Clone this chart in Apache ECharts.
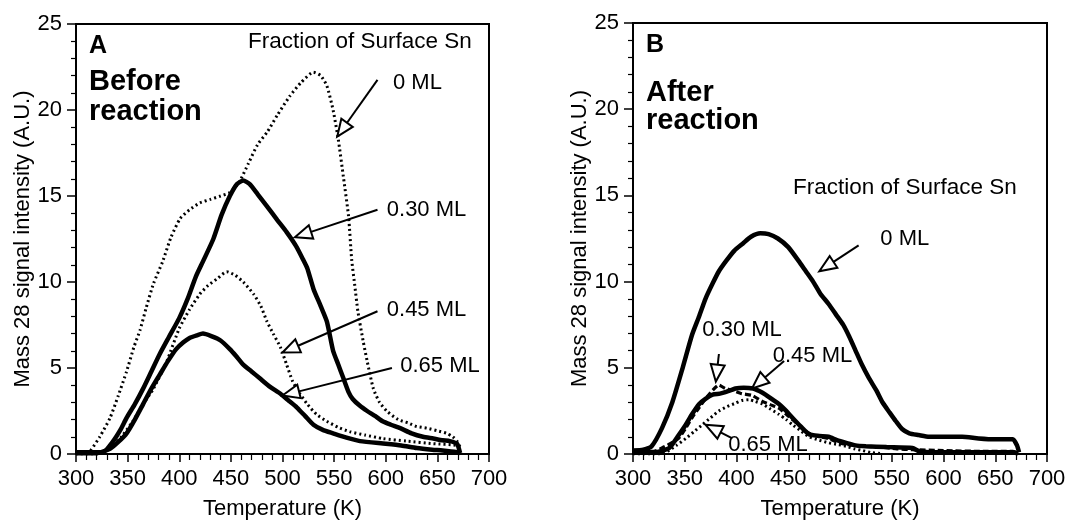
<!DOCTYPE html>
<html>
<head>
<meta charset="utf-8">
<title>Mass 28 TPD</title>
<script src="https://cdn.jsdelivr.net/npm/echarts@6/dist/echarts.min.js"></script>
<style>
    html, body { margin: 0; padding: 0; background: #fff; }
    #chart { width: 1092px; height: 525px; }
</style>
</head>
<body>
<div id="chart"></div>
<script>
// Panel A - before reaction, [temperature K, intensity]
var beforeMl0 = [[300,0.05],[310,0.1],[314,0.2],[323,1.0],[333,2.1],[341,3.4],[349,4.8],[356,6.2],[362,7.2],[368,8.5],[375,9.9],[384,11.2],[392,12.6],[401,13.7],[410,14.2],[420,14.6],[430,14.8],[440,15.0],[449,15.2],[458,15.8],[467,16.9],[476,18.0],[485,18.7],[495,19.7],[507,20.8],[518,21.6],[530,22.2],[537,22.0],[543,21.4],[549,20.0],[554,18.3],[559,16.1],[564,13.8],[567,11.3],[570,9.8],[573,8.3],[578,6.6],[582,5.4],[588,3.8],[594,3.0],[601,2.5],[612,2.0],[622,1.8],[630,1.6],[640,1.5],[650,1.35],[659,1.2],[665,1.0],[669,0.75],[672,0.4]];
var beforeMl30 = [[300,0.1],[310,0.1],[320,0.1],[326,0.1],[336,0.75],[343,1.4],[349,2.1],[357,2.9],[365,3.8],[373,4.8],[381,5.8],[390,6.8],[400,7.9],[408,9.0],[416,10.3],[423,11.2],[433,12.5],[441,13.9],[449,15.0],[456,15.7],[462,15.9],[468,15.7],[476,15.1],[485,14.4],[495,13.6],[504,12.9],[513,12.1],[520,11.3],[524,10.8],[530,9.6],[537,8.6],[543,7.7],[549,6.0],[554,5.2],[559,4.4],[564,3.6],[568,3.2],[575,2.8],[582,2.5],[590,2.2],[597,1.9],[605,1.7],[614,1.5],[625,1.2],[636,1.0],[646,0.9],[655,0.8],[662,0.75],[669,0.6],[672,0.05]];
var beforeMl45 = [[300,0],[320,0],[333,0.35],[344,1.0],[355,1.9],[365,2.9],[375,3.8],[388,5.4],[400,7.3],[410,8.4],[420,9.3],[428,9.8],[437,10.2],[446,10.6],[454,10.4],[462,10.0],[472,9.3],[479,8.6],[485,7.7],[491,7.0],[498,6.2],[504,5.2],[510,4.2],[517,3.5],[524,2.9],[533,2.3],[543,1.9],[554,1.55],[565,1.3],[580,1.1],[597,0.9],[620,0.75],[646,0.6],[669,0.5],[672,0.3]];
var beforeMl65 = [[300,0.05],[320,0.05],[333,0.3],[341,0.7],[349,1.2],[357,2.0],[365,2.9],[373,3.8],[381,4.6],[389,5.4],[397,6.1],[404,6.5],[410,6.75],[417,6.9],[423,7.0],[431,6.85],[440,6.6],[449,6.1],[455,5.7],[462,5.2],[470,4.8],[478,4.4],[488,3.9],[498,3.5],[506,3.1],[514,2.7],[522,2.2],[530,1.7],[539,1.4],[549,1.2],[562,0.95],[575,0.75],[600,0.6],[615,0.5],[630,0.35],[645,0.25],[655,0.2],[669,0.1],[672,0.05]];

// Panel B - after reaction
var afterMl0 = [[300,0.2],[310,0.25],[318,0.45],[328,1.5],[338,3.0],[348,5.0],[357,6.9],[364,8.0],[370,9.0],[377,9.9],[383,10.6],[390,11.2],[398,11.8],[406,12.2],[414,12.6],[423,12.8],[431,12.75],[440,12.5],[450,12.0],[460,11.2],[467,10.6],[474,10.0],[481,9.3],[489,8.7],[496,8.1],[503,7.5],[509,6.8],[515,6.0],[521,5.2],[528,4.4],[535,3.7],[541,3.0],[548,2.4],[554,1.9],[560,1.45],[567,1.2],[576,1.1],[586,1.0],[600,1.0],[618,1.0],[634,0.9],[650,0.85],[667,0.85],[671,0.5],[673,0.1]];
var afterMl30 = [[300,0.15],[320,0.15],[328,0.35],[336,0.6],[344,0.9],[351,1.5],[357,2.1],[364,2.7],[370,3.2],[377,3.7],[383,4.0],[389,3.8],[396,3.7],[405,3.5],[415,3.4],[425,3.05],[433,2.85],[441,2.66],[450,2.2],[460,1.7],[466,1.35],[474,1.1],[489,0.9],[497,0.7],[506,0.55],[520,0.45],[538,0.4],[555,0.3],[570,0.25],[600,0.2],[640,0.15],[667,0.15],[672,0.05]];
var afterMl45 = [[300,0.1],[322,0.1],[335,0.35],[343,1.0],[351,1.7],[357,2.3],[364,2.9],[370,3.2],[377,3.45],[384,3.5],[390,3.6],[399,3.8],[407,3.85],[416,3.8],[422,3.65],[428,3.45],[435,3.15],[441,2.9],[448,2.5],[454,2.1],[462,1.6],[470,1.15],[480,1.05],[489,1.0],[497,0.8],[506,0.64],[515,0.5],[525,0.45],[545,0.4],[570,0.35],[577,0.15],[600,0.1],[640,0.1],[667,0.1],[672,0.02]];
var afterMl65 = [[300,0],[325,0],[333,0.15],[342,0.5],[351,0.9],[359,1.3],[367,1.7],[375,2.1],[383,2.5],[391,2.75],[399,2.95],[405,3.1],[412,3.15],[418,3.05],[425,2.9],[433,2.6],[441,2.3],[448,2.0],[454,1.7],[462,1.35],[470,1.0],[480,0.8],[489,0.65],[498,0.55],[506,0.45],[514,0.3],[522,0.2],[530,0.08],[540,0.02]];

// arrow annotations: [tailX, tailY, headX, headY, labelX, labelY]
var coverLabels = ['0 ML', '0.30 ML', '0.45 ML', '0.65 ML'];
var beforeArrows = [[592,21.75,553,18.45,607,21.6],[592,14.2,512,12.6,601,14.2],[592,8.3,500,5.9,601,8.4],[606,5.0,500,3.4,614,5.1]];
var afterArrows = [[518,12.1,480,10.6,539,12.5],[383,5.8,380,4.2,367,7.2],[446,5.4,415,3.8,435,5.7],[396,0.9,370,1.7,392,0.5]];

var FONT = '"Liberation Sans", Arial, Helvetica, sans-serif';
var SOLID = {color: '#000', width: 4.5, type: 'solid'};
var DOTTED = {color: '#000', width: 3, type: [2, 3]};
var DASHED = {color: '#000', width: 3.2, type: [6, 3]};
var chart;

function init() {
    chart = echarts.init(document.getElementById('chart'), null, {renderer: 'canvas'});
    chart.setOption(buildOption());
}

function xAxisOf(idx) {
    return {
        type: 'value', gridIndex: idx, min: 300, max: 700, interval: 50,
        name: 'Temperature (K)', nameLocation: 'middle', nameGap: 44,
        nameTextStyle: {color: '#000', fontSize: 22, fontFamily: FONT},
        axisLine: {onZero: false, lineStyle: {color: '#000', width: 2}},
        axisTick: {inside: false, length: 8, lineStyle: {color: '#000', width: 1.5}},
        minorTick: {show: true, splitNumber: 5, length: 6, lineStyle: {color: '#000', width: 1.2}},
        axisLabel: {color: '#000', fontSize: 22, fontFamily: FONT, margin: 14},
        splitLine: {show: false}
    };
}

function yAxisOf(idx) {
    return {
        type: 'value', gridIndex: idx, min: 0, max: 25, interval: 5,
        name: 'Mass 28 signal intensity (A.U.)', nameLocation: 'middle', nameGap: 40,
        nameTextStyle: {color: '#000', fontSize: 22, fontFamily: FONT},
        axisLine: {onZero: false, lineStyle: {color: '#000', width: 2}},
        axisTick: {inside: false, length: 9, lineStyle: {color: '#000', width: 1.5}},
        minorTick: {show: true, splitNumber: 5, length: 5, lineStyle: {color: '#000', width: 1.2}},
        axisLabel: {color: '#000', fontSize: 22, fontFamily: FONT, margin: 14},
        splitLine: {show: false}
    };
}

function curve(name, data, idx, style) {
    return {
        name: name, type: 'line', xAxisIndex: idx, yAxisIndex: idx,
        data: data, showSymbol: false, smooth: 0.2, z: 3,
        itemStyle: {color: '#000'},
        lineStyle: style
    };
}

// arrow with hollow head plus label, drawn through the axis scales
function arrowSeries(idx, data) {
    return {
        type: 'custom', xAxisIndex: idx, yAxisIndex: idx, z: 5,
        data: data, silent: true,
        encode: {x: [0, 2, 4], y: [1, 3, 5]},
        renderItem: function (params, api) {
            var tail = api.coord([api.value(0), api.value(1)]);
            var head = api.coord([api.value(2), api.value(3)]);
            var lab = api.coord([api.value(4), api.value(5)]);
            var dx = head[0] - tail[0], dy = head[1] - tail[1];
            var len = Math.sqrt(dx * dx + dy * dy);
            var ux = dx / len, uy = dy / len;
            var hl = 17, hw = 7;
            var bx = head[0] - ux * hl, by = head[1] - uy * hl;
            return {
                type: 'group',
                children: [
                    {type: 'line', shape: {x1: tail[0], y1: tail[1], x2: bx, y2: by}, style: {stroke: '#000', lineWidth: 2}},
                    {type: 'polygon', shape: {points: [[head[0], head[1]], [bx - uy * hw, by + ux * hw], [bx + uy * hw, by - ux * hw]]},
                        style: {fill: '#fff', stroke: '#000', lineWidth: 2}},
                    {type: 'text', x: lab[0], y: lab[1],
                        style: {text: coverLabels[params.dataIndex], fill: '#000', font: '22px ' + FONT, align: 'left', verticalAlign: 'middle'}}
                ]
            };
        }
    };
}

function txt(x, y, s, size, bold) {
    return {
        type: 'text', x: x, y: y, z: 10,
        style: {text: s, fill: '#000', font: (bold ? 'bold ' : '') + size + 'px ' + FONT, verticalAlign: 'middle'}
    };
}

function buildOption() {
    return {
        backgroundColor: '#fff',
        animation: false,
        grid: [
            {left: 76, right: 603, top: 24, bottom: 70, show: true, borderColor: '#000', borderWidth: 2},
            {left: 633, right: 45, top: 23, bottom: 70, show: true, borderColor: '#000', borderWidth: 2}
        ],
        xAxis: [xAxisOf(0), xAxisOf(1)],
        yAxis: [yAxisOf(0), yAxisOf(1)],
        series: [
            curve('A 0 ML', beforeMl0, 0, DOTTED),
            curve('A 0.30 ML', beforeMl30, 0, SOLID),
            curve('A 0.45 ML', beforeMl45, 0, DOTTED),
            curve('A 0.65 ML', beforeMl65, 0, SOLID),
            curve('B 0 ML', afterMl0, 1, SOLID),
            curve('B 0.30 ML', afterMl30, 1, DASHED),
            curve('B 0.45 ML', afterMl45, 1, SOLID),
            curve('B 0.65 ML', afterMl65, 1, DOTTED),
            arrowSeries(0, beforeArrows),
            arrowSeries(1, afterArrows)
        ],
        graphic: [
            txt(89, 46, 'A', 25, true),
            txt(89, 82, 'Before', 29, true),
            txt(89, 112, 'reaction', 29, true),
            txt(248, 42, 'Fraction of Surface Sn', 22.5, false),
            txt(646, 45, 'B', 25, true),
            txt(646, 93, 'After', 29, true),
            txt(646, 121, 'reaction', 29, true),
            txt(793, 188, 'Fraction of Surface Sn', 22.5, false)
        ]
    };
}

init();
</script>
</body>
</html>
